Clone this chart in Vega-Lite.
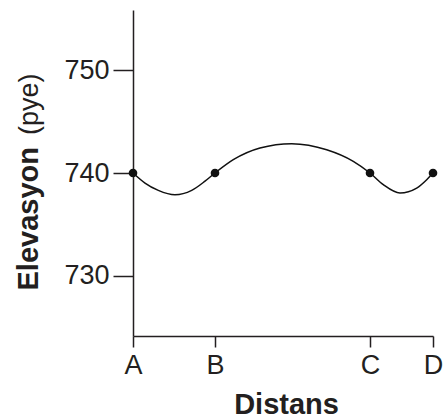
{
  "$schema": "https://vega.github.io/schema/vega-lite/v6.json",
  "width": 300,
  "height": 326,
  "autosize": {"type": "none"},
  "padding": {"left": 133, "top": 10, "right": 10, "bottom": 84},
  "background": "white",
  "config": {"view": {"stroke": null}, "font": "Liberation Sans"},
  "datasets": {
    "curve": [
      {"d": 0, "elev": 740},
      {"d": 12, "elev": 739.02},
      {"d": 25.3, "elev": 738.3},
      {"d": 42, "elev": 737.87},
      {"d": 58.7, "elev": 738.3},
      {"d": 72, "elev": 739.2},
      {"d": 82, "elev": 740},
      {"d": 100.3, "elev": 741.3},
      {"d": 127, "elev": 742.44},
      {"d": 158.7, "elev": 742.86},
      {"d": 193.7, "elev": 742.27},
      {"d": 220.3, "elev": 741.14},
      {"d": 237, "elev": 740},
      {"d": 250.3, "elev": 738.86},
      {"d": 267, "elev": 738.05},
      {"d": 283.7, "elev": 738.53},
      {"d": 293.7, "elev": 739.35},
      {"d": 300, "elev": 740}
    ],
    "pts": [
      {"d": 0, "elev": 740},
      {"d": 82, "elev": 740},
      {"d": 237, "elev": 740},
      {"d": 300, "elev": 740}
    ]
  },
  "layer": [
    {
      "data": {"name": "curve"},
      "mark": {"type": "line", "interpolate": "monotone", "color": "#111111", "strokeWidth": 1.5},
      "encoding": {
        "x": {
          "field": "d", "type": "quantitative",
          "scale": {"domain": [0, 300], "nice": false, "zero": false},
          "axis": {
            "values": [0, 82, 237, 300],
            "labelExpr": "datum.value == 0 ? 'A' : datum.value == 82 ? 'B' : datum.value == 237 ? 'C' : 'D'",
            "grid": false, "domainColor": "#231f20", "domainWidth": 1.5,
            "tickColor": "#231f20", "tickWidth": 1.5, "tickSize": 11,
            "labelFontSize": 27, "labelColor": "#231f20", "labelPadding": 5,
            "labelFlush": false, "labelOverlap": false,
            "title": "Distans", "titleFontSize": 29, "titleFontWeight": "bold", "titleColor": "#231f20",
            "titleX": 153, "titleY": 77, "titleAlign": "center", "titleBaseline": "alphabetic"
          }
        },
        "y": {
          "field": "elev", "type": "quantitative",
          "scale": {"domain": [724.1, 755.9], "nice": false, "zero": false},
          "axis": {
            "values": [730, 740, 750],
            "grid": false, "domainColor": "#231f20", "domainWidth": 1.5,
            "tickColor": "#231f20", "tickWidth": 1.5, "tickSize": 20,
            "labelFontSize": 27, "labelColor": "#231f20", "labelPadding": 4,
            "title": "Elevasyon", "titleFontSize": 29, "titleFontWeight": "bold", "titleColor": "#231f20",
            "titleAngle": 270, "titleAlign": "left", "titleBaseline": "alphabetic",
            "titleX": -96, "titleY": 280
          }
        }
      }
    },
    {
      "data": {"name": "pts"},
      "mark": {"type": "point", "filled": true, "size": 75, "color": "#111111", "opacity": 1},
      "encoding": {
        "x": {"field": "d", "type": "quantitative", "scale": {"domain": [0, 300], "nice": false, "zero": false}},
        "y": {
          "field": "elev", "type": "quantitative",
          "scale": {"domain": [724.1, 755.9], "nice": false, "zero": false},
          "axis": {
            "orient": "right", "domain": false, "ticks": false, "labels": false, "grid": false,
            "title": "(pye)", "titleFontSize": 27, "titleFontWeight": "normal", "titleColor": "#231f20",
            "titleAngle": 270, "titleAlign": "right", "titleBaseline": "alphabetic",
            "titleX": -396, "titleY": 63
          }
        }
      }
    }
  ],
  "resolve": {"axis": {"y": "independent"}}
}
